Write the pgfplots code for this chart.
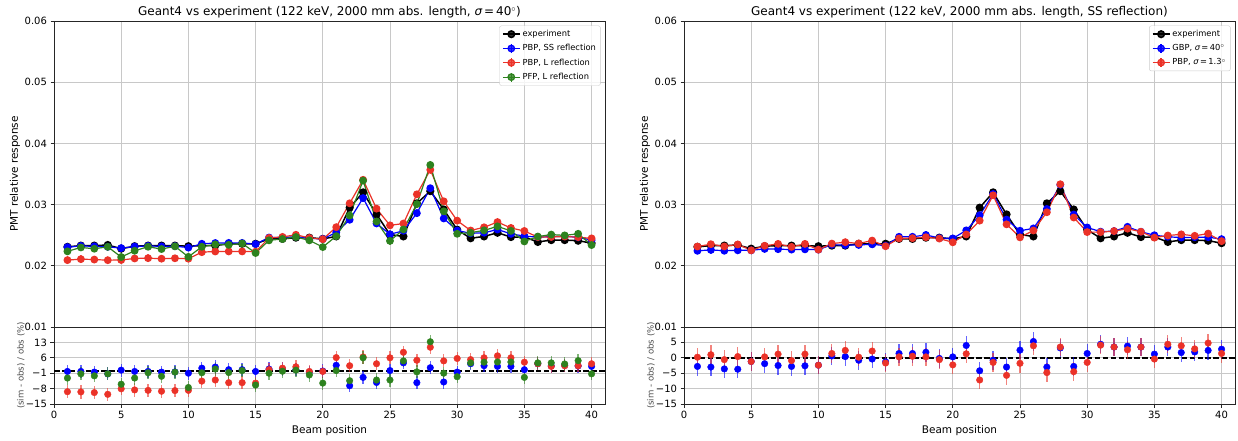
\documentclass[border=0pt]{standalone}
\usepackage{fontspec}
\setmainfont{DejaVu Sans}
\usepackage{pgfplots}
\pgfplotsset{compat=1.18}
\usepackage{pgfplotstable}

\definecolor{mblue}{RGB}{0,0,255}
\definecolor{mred}{RGB}{235,50,40}
\definecolor{mgreen}{RGB}{45,130,30}
\definecolor{gridgray}{RGB}{200,200,200}

% x, experiment, PBP SS, PBP L, PFP L, then residuals in %
\pgfplotstableread{
x e ss l pfp rss rl rpfp
1 0.0231 0.02305 0.02093 0.02236 -0.2 -9.4 -3.2
2 0.0233 0.02325 0.02109 0.02300 -0.2 -9.5 -1.3
3 0.0233 0.02318 0.02102 0.02279 -0.5 -9.8 -2.2
4 0.0234 0.02310 0.02092 0.02310 -1.3 -10.6 -1.3
5 0.0228 0.02289 0.02095 0.02143 0.4 -8.1 -6.0
6 0.0232 0.02315 0.02120 0.02246 -0.2 -8.6 -3.2
7 0.0233 0.02325 0.02125 0.02311 -0.2 -8.8 -0.8
8 0.0233 0.02318 0.02116 0.02274 -0.5 -9.2 -2.4
9 0.0233 0.02321 0.02123 0.02318 -0.4 -8.9 -0.5
10 0.0232 0.02297 0.02116 0.02146 -1.0 -8.8 -7.5
11 0.0233 0.02360 0.02223 0.02311 1.3 -4.6 -0.8
12 0.0233 0.02372 0.02234 0.02351 1.8 -4.1 0.9
13 0.0236 0.02374 0.02235 0.02343 0.6 -5.3 -0.7
14 0.0236 0.02374 0.02235 0.02365 0.6 -5.3 0.2
15 0.0236 0.02355 0.02230 0.02209 -0.2 -5.5 -6.4
16 0.0244 0.02462 0.02455 0.02416 0.9 0.6 -1.0
17 0.0244 0.02462 0.02472 0.02438 0.9 1.3 -0.1
18 0.0246 0.02475 0.02507 0.02470 0.6 1.9 0.4
19 0.0246 0.02448 0.02455 0.02416 -0.5 -0.2 -1.8
20 0.0244 0.02440 0.02435 0.02306 0.0 -0.2 -5.5
21 0.0248 0.02544 0.02631 0.02485 2.6 6.1 0.2
22 0.0295 0.02752 0.03021 0.02820 -6.7 2.4 -4.4
23 0.0320 0.03107 0.03405 0.03392 -2.9 6.4 6.0
24 0.0284 0.02692 0.02934 0.02724 -5.2 3.3 -4.1
25 0.0251 0.02515 0.02661 0.02407 0.2 6.0 -4.1
26 0.0248 0.02572 0.02691 0.02594 3.7 8.5 4.6
27 0.0302 0.02860 0.03168 0.03008 -5.3 4.9 -0.4
28 0.0322 0.03268 0.03568 0.03648 1.5 10.8 13.3
29 0.0292 0.02774 0.03054 0.02891 -5.0 4.6 -1.0
30 0.0259 0.02577 0.02738 0.02523 -0.5 5.7 -2.6
31 0.0245 0.02531 0.02577 0.02541 3.3 5.2 3.7
32 0.0248 0.02540 0.02629 0.02579 2.4 6.0 4.0
33 0.0254 0.02593 0.02715 0.02644 2.1 6.9 4.1
34 0.0247 0.02522 0.02618 0.02571 2.1 6.0 4.1
35 0.0247 0.02485 0.02569 0.02398 0.6 4.0 -2.9
36 0.0239 0.02469 0.02469 0.02478 3.3 3.3 3.7
37 0.0242 0.02476 0.02471 0.02510 2.3 2.1 3.7
38 0.0242 0.02483 0.02478 0.02497 2.6 2.4 3.2
39 0.0241 0.02465 0.02468 0.02523 2.3 2.4 4.7
40 0.0237 0.02420 0.02448 0.02339 2.1 3.3 -1.3
}\leftdata

% x, experiment, GBP sigma=40, PBP sigma=1.3, then residuals in %
\pgfplotstableread{
x e gbp pbp rg rp
1 0.0231 0.02245 0.02315 -2.8 0.2
2 0.0233 0.02260 0.02353 -3.0 1.0
3 0.0233 0.02246 0.02316 -3.6 -0.6
4 0.0234 0.02253 0.02349 -3.7 0.4
5 0.0228 0.02253 0.02253 -1.2 -1.2
6 0.0232 0.02276 0.02327 -1.9 0.3
7 0.0233 0.02272 0.02358 -2.5 1.2
8 0.0233 0.02265 0.02309 -2.8 -0.9
9 0.0233 0.02269 0.02358 -2.6 1.2
10 0.0232 0.02264 0.02264 -2.4 -2.4
11 0.0233 0.02344 0.02363 0.6 1.4
12 0.0233 0.02339 0.02386 0.4 2.4
13 0.0236 0.02341 0.02365 -0.8 0.2
14 0.0236 0.02351 0.02412 -0.4 2.2
15 0.0236 0.02329 0.02320 -1.3 -1.7
16 0.0244 0.02474 0.02447 1.4 0.3
17 0.0244 0.02474 0.02452 1.4 0.5
18 0.0246 0.02504 0.02467 1.8 0.3
19 0.0246 0.02455 0.02445 -0.2 -0.6
20 0.0244 0.02447 0.02384 0.3 -2.3
21 0.0248 0.02579 0.02512 4.0 1.3
22 0.0295 0.02826 0.02738 -4.2 -7.2
23 0.0320 0.03174 0.03152 -0.8 -1.5
24 0.0284 0.02755 0.02678 -3.0 -5.7
25 0.0251 0.02573 0.02465 2.5 -1.8
26 0.0248 0.02611 0.02577 5.3 3.9
27 0.0302 0.02929 0.02875 -3.0 -4.8
28 0.0322 0.03323 0.03333 3.2 3.5
29 0.0292 0.02838 0.02789 -2.8 -4.5
30 0.0259 0.02626 0.02551 1.4 -1.5
31 0.0245 0.02558 0.02550 4.4 4.1
32 0.0248 0.02567 0.02567 3.5 3.5
33 0.0254 0.02637 0.02606 3.8 2.6
34 0.0247 0.02556 0.02556 3.5 3.5
35 0.0247 0.02500 0.02460 1.2 -0.4
36 0.0239 0.02474 0.02495 3.5 4.4
37 0.0242 0.02461 0.02514 1.7 3.9
38 0.0242 0.02466 0.02490 1.9 2.9
39 0.0241 0.02468 0.02526 2.4 4.8
40 0.0237 0.02436 0.02403 2.8 1.4
}\rightdata

\pgfplotsset{
  base/.style={
    scale only axis, width=551pt, anchor=south west,
    xmin=0, xmax=41, xtick={0,5,...,40},
    scaled y ticks=false,
    grid=major, major grid style={draw=gridgray, line width=0.8pt},
    axis line style={draw=black!85, line width=0.8pt},
    tick align=outside, major tick length=3.5pt,
    tick style={black!85, line width=0.8pt},
    tick pos=left,
    ticklabel style={font=\fontsize{10}{12}\selectfont},
    label style={font=\fontsize{10.5}{12}\selectfont},
  },
  top/.style={
    base, height=306pt,
    ymin=0.01, ymax=0.06,
    ytick={0.01,0.02,0.03,0.04,0.05,0.06},
    yticklabels={0.01,0.02,0.03,0.04,0.05,0.06},
    xticklabels={}, xtick style={draw=none},
    ylabel={PMT relative response},
    ylabel style={at={(axis description cs:-0.071,0.5)}, anchor=center},
    every axis title/.style={font=\fontsize{12}{14}\selectfont,
      at={(0.5,1)}, anchor=south, inner sep=2.5pt},
    legend cell align=left,
    legend style={at={(0.992,0.985)}, anchor=north east,
      font=\fontsize{8.3}{10}\selectfont, draw=black!20, rounded corners=2pt,
      fill=white, fill opacity=0.8, text opacity=1, row sep=2.5pt,
      inner sep=2.5pt},
  },
  bottom/.style={
    base, height=77pt,
    xticklabels={0,5,10,15,20,25,30,35,40},
    xlabel={Beam position},
    ylabel={(sim - obs) / obs (\%)},
    ylabel style={font=\fontsize{8.6}{10}\selectfont, black!70,
      at={(axis description cs:-0.060,0.5)}, anchor=center},
  },
  expline/.style={black, line width=1.5pt, mark=*, mark size=3.3pt},
  simline/.style={#1, line width=1.2pt, mark=*, mark size=3.3pt,
    error bars/y dir=both, error bars/y fixed=0.0006,
    error bars/error mark=none,
    error bars/error bar style={line width=1.3pt, opacity=0.6}},
  resmark/.style={#1, only marks, mark=*, mark size=3.3pt,
    error bars/y dir=both, error bars/y fixed=3,
    error bars/error mark=none,
    error bars/error bar style={line width=1.3pt, opacity=0.6}},
  ebleg/.style={legend image code/.code={
    \draw[##1, mark=none] (0pt,0pt) -- (17pt,0pt);
    \draw[##1, mark=none] (8.5pt,-4.5pt) -- (8.5pt,4.5pt);
    \draw[##1, only marks] plot coordinates {(8.5pt,0pt)};
  }},
  zeroline/.style={black, line width=1.5pt, dash pattern=on 5.5pt off 2.4pt, forget plot},
}

\begin{document}
\begin{tikzpicture}
\useasboundingbox (0,0) rectangle (1238pt,440pt);

% left, main panel
\begin{axis}[top, at={(54pt,113pt)},
  title={Geant4 vs experiment (122 keV, 2000 mm abs. length, {\itshape σ}\,=\,40$^\circ$)}]
\addplot[expline] table[x=x,y=e] {\leftdata};
\addlegendentry{experiment}
\addplot[ebleg, simline=mblue] table[x=x,y=ss] {\leftdata};
\addlegendentry{PBP, SS reflection}
\addplot[ebleg, simline=mred] table[x=x,y=l] {\leftdata};
\addlegendentry{PBP, L reflection}
\addplot[ebleg, simline=mgreen] table[x=x,y=pfp] {\leftdata};
\addlegendentry{PFP, L reflection}
\end{axis}

% left, residuals
\begin{axis}[bottom, at={(54pt,36pt)},
  ymin=-15, ymax=20, ytick={-15,-8,-1,6,13},
  yticklabels={−15,−8,−1,6,13}]
\addplot[zeroline] coordinates {(0,0) (41,0)};
\addplot[resmark=mblue] table[x=x,y=rss] {\leftdata};
\addplot[resmark=mred] table[x=x,y=rl] {\leftdata};
\addplot[resmark=mgreen] table[x=x,y=rpfp] {\leftdata};
\end{axis}

% right, main panel
\begin{axis}[top, at={(684pt,113pt)},
  title={Geant4 vs experiment (122 keV, 2000 mm abs. length, SS reflection)}]
\addplot[expline] table[x=x,y=e] {\rightdata};
\addlegendentry{experiment}
\addplot[ebleg, simline=mblue] table[x=x,y=gbp] {\rightdata};
\addlegendentry{GBP, {\itshape σ}\,=\,40$^\circ$}
\addplot[ebleg, simline=mred] table[x=x,y=pbp] {\rightdata};
\addlegendentry{PBP, {\itshape σ}\,=\,1.3$^\circ$}
\end{axis}

% right, residuals
\begin{axis}[bottom, at={(684pt,36pt)},
  ymin=-15, ymax=10, ytick={-15,-10,-5,0,5},
  yticklabels={−15,−10,−5,0,5}]
\addplot[zeroline] coordinates {(0,0) (41,0)};
\addplot[resmark=mblue] table[x=x,y=rg] {\rightdata};
\addplot[resmark=mred] table[x=x,y=rp] {\rightdata};
\end{axis}

\end{tikzpicture}
\end{document}
